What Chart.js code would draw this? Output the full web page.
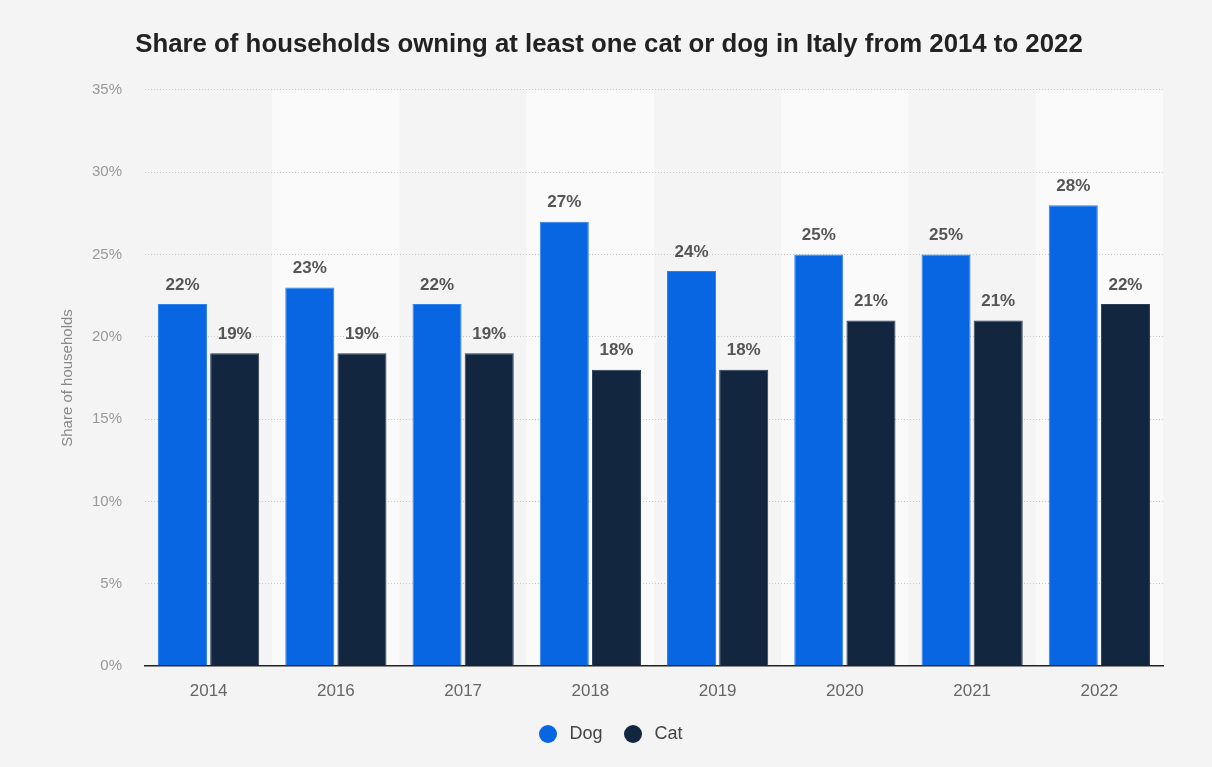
<!doctype html>
<html lang="en">
  <head>
    <title>Cats and dogs in Italian households</title>
    <script src="https://cdn.jsdelivr.net/npm/chart.js@4/dist/chart.umd.min.js"></script>
    <style>
      html, body { margin: 0; padding: 0; background: #fff; }
      #wrap { width: 1212px; height: 767px; }
    </style>
  </head>
  <body>
    <div id="wrap"><canvas id="myChart"></canvas></div>
    <script>
      const years = ['2014', '2016', '2017', '2018', '2019', '2020', '2021', '2022'];
      const dogShare = [22, 23, 22, 27, 24, 25, 25, 28];
      const catShare = [19, 19, 19, 18, 18, 21, 21, 22];
      const yTicks = [0, 5, 10, 15, 20, 25, 30, 35];

      const FONT = '"Liberation Sans", Arial, Helvetica, sans-serif';
      const DOG_BLUE = '#0966e3';
      const CAT_NAVY = '#12263f';

      // round legend marker as a small canvas so it stays a circle
      function makeDot(color) {
        const c = document.createElement('canvas');
        c.width = 18;
        c.height = 18;
        const g = c.getContext('2d');
        g.fillStyle = color;
        g.beginPath();
        g.arc(9, 9, 9, 0, Math.PI * 2);
        g.fill();
        return c;
      }
      const dots = [makeDot(DOG_BLUE), makeDot(CAT_NAVY)];

      // page background plus lighter stripes behind every other year
      const backdrop = {
        id: 'backdrop',
        beforeDraw(chart) {
          const { ctx, chartArea: a } = chart;
          ctx.save();
          ctx.fillStyle = '#f4f4f4';
          ctx.fillRect(0, 0, chart.width, chart.height);
          const step = (a.right - a.left) / years.length;
          ctx.fillStyle = '#fafafa';
          years.forEach((_, i) => {
            if (i % 2 === 1) ctx.fillRect(a.left + i * step, a.top, step, a.bottom - a.top);
          });
          ctx.restore();
        }
      };

      // value labels on top of each bar
      const barLabels = {
        id: 'barLabels',
        afterDatasetsDraw(chart) {
          const { ctx } = chart;
          ctx.save();
          ctx.font = 'bold 17px ' + FONT;
          ctx.fillStyle = '#555';
          ctx.textAlign = 'center';
          ctx.textBaseline = 'middle';
          chart.data.datasets.forEach((ds, di) => {
            chart.getDatasetMeta(di).data.forEach((bar, i) => {
              ctx.fillText(ds.data[i] + '%', bar.x, bar.y - 19);
            });
          });
          ctx.restore();
        }
      };

      new Chart(document.getElementById('myChart'), {
        type: 'bar',
        data: {
          labels: years,
          datasets: [
            { label: 'Dog', data: dogShare, backgroundColor: DOG_BLUE, borderColor: '#2f7fea', borderWidth: 1 },
            { label: 'Cat', data: catShare, backgroundColor: CAT_NAVY, borderColor: '#2a3b52', borderWidth: 1 }
          ]
        },
        plugins: [backdrop, barLabels],
        options: {
          responsive: true,
          maintainAspectRatio: false,
          animation: false,
          layout: { padding: { left: 55, right: 49, bottom: 14 } },
          datasets: {
            bar: { categoryPercentage: 0.82, barPercentage: 0.94 }
          },
          scales: {
            x: {
              afterFit(scale) { scale.height = 41; },
              grid: { display: false, drawTicks: false },
              border: { color: '#222', width: 1.5 },
              ticks: { color: '#666', font: { family: FONT, size: 17 }, padding: 15 }
            },
            y: {
              min: 0,
              max: 35,
              afterBuildTicks(scale) {
                scale.ticks = yTicks.map(v => ({ value: v }));
              },
              afterFit(scale) { scale.width = 90; },
              border: { display: false, dash: [1, 2] },
              grid: {
                drawTicks: false,
                color: ctx => ctx.tick.value === 0 ? 'rgba(0,0,0,0)' : '#c8c8c8'
              },
              ticks: {
                color: '#999',
                padding: 23,
                font: { family: FONT, size: 15 },
                callback: v => v + '%'
              },
              title: {
                display: true,
                text: 'Share of households',
                color: '#888',
                font: { family: FONT, size: 15 },
                padding: 4
              }
            }
          },
          plugins: {
            title: {
              display: true,
              text: 'Share of households owning at least one cat or dog in Italy from 2014 to 2022',
              color: '#222',
              font: { family: FONT, size: 25.8, weight: 'bold' },
              padding: { top: 29, bottom: 30 }
            },
            legend: {
              position: 'bottom',
              labels: {
                usePointStyle: true,
                boxHeight: 18,
                pointStyleWidth: 25,
                color: '#444',
                padding: 18,
                font: { family: FONT, size: 18 },
                generateLabels(chart) {
                  const items = Chart.defaults.plugins.legend.labels.generateLabels(chart);
                  items.forEach((item, i) => { item.pointStyle = dots[i]; });
                  return items;
                }
              }
            },
            tooltip: { enabled: false }
          }
        }
      });
    </script>
  </body>
</html>
